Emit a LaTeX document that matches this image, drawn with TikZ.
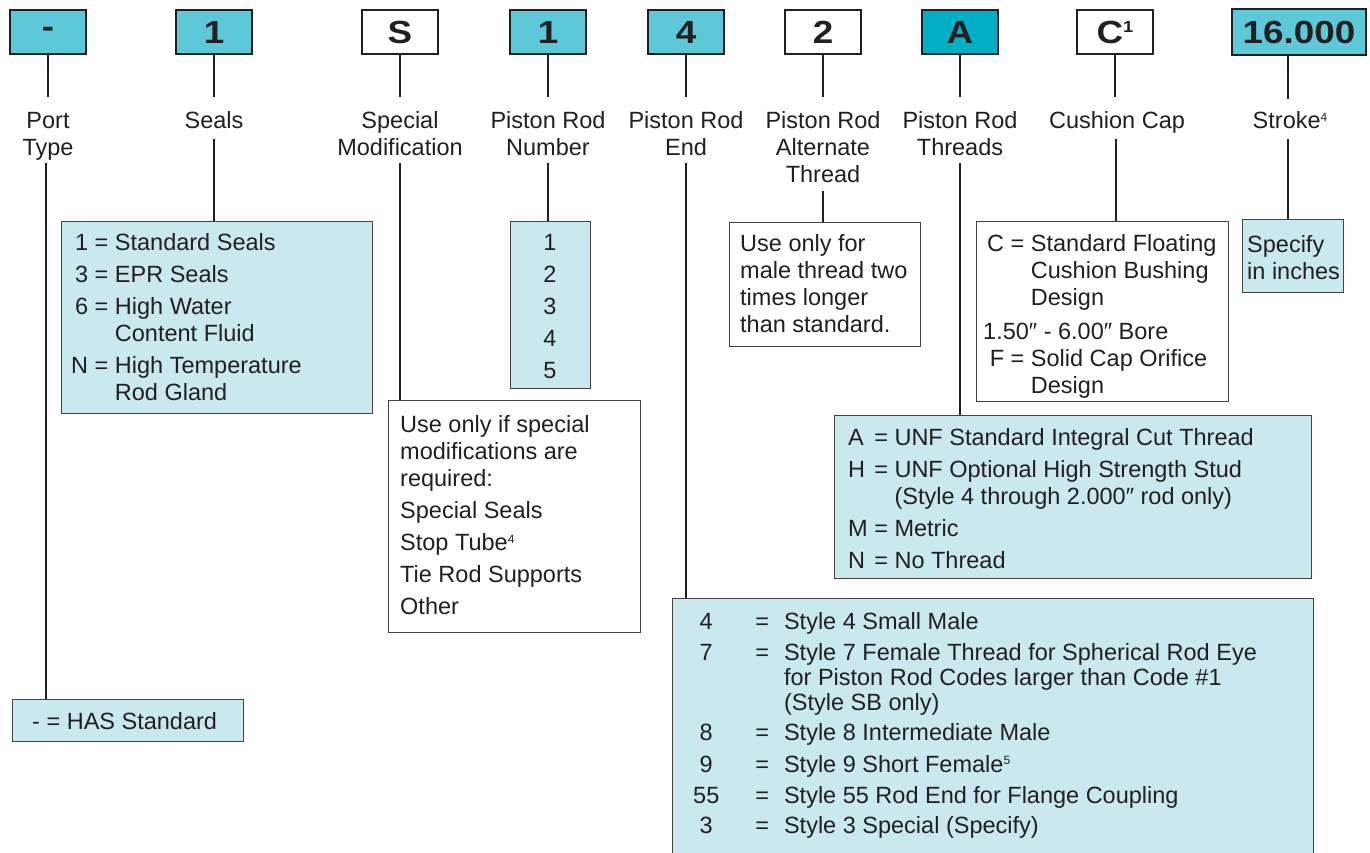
\documentclass[tikz,border=0pt]{standalone}
\usepackage{fontspec}
\setmainfont{Liberation Sans}
\definecolor{cyanbox}{RGB}{93,200,216}
\definecolor{darkcyan}{RGB}{0,175,196}
\definecolor{lightbox}{RGB}{201,233,238}
\definecolor{ink}{RGB}{35,31,32}
\newcommand{\codetxt}[1]{\scalebox{1.15}[1]{#1}}
\newcommand{\lblstack}[1]{\begin{tabular}{@{}c@{}}#1\end{tabular}}
\newcommand{\sups}[1]{\raisebox{7.5pt}{\fontsize{12}{12}\selectfont #1}}
\newcommand{\codesups}[1]{\raisebox{11pt}{\fontsize{16}{16}\selectfont\bfseries #1}}
\tikzset{
  codebox/.style={draw=ink, line width=2pt, minimum width=76pt, minimum height=44pt,
    inner sep=0pt, font=\fontsize{32}{36}\selectfont\bfseries, text=ink},
  infobox/.style={draw=ink!85, line width=1.4pt, anchor=north west, inner sep=0pt, fill=lightbox},
  plainbox/.style={infobox, fill=white},
  txt/.style={inner sep=0pt, anchor=north west, font=\fontsize{23.5}{27}\selectfont, text=ink},
  lbl/.style={inner sep=0pt, anchor=north, font=\fontsize{23.5}{27}\selectfont, text=ink},
  conn/.style={draw=ink, line width=2pt},
}
\begin{document}
\begin{tikzpicture}[x=1pt,y=-1pt]
\clip (0,0) rectangle (1370,852);
\fill[white] (0,0) rectangle (1370,852);

% ---- top code boxes
\node[codebox, fill=cyanbox]  (t1) at (48,32)  {\codetxt{-}};
\node[codebox, fill=cyanbox]  (t2) at (214,32) {\codetxt{1}};
\node[codebox, fill=white]    (t3) at (400,32) {\codetxt{S}};
\node[codebox, fill=cyanbox]  (t4) at (548,32) {\codetxt{1}};
\node[codebox, fill=cyanbox]  (t5) at (686,32) {\codetxt{4}};
\node[codebox, fill=white]    (t6) at (823,32) {\codetxt{2}};
\node[codebox, fill=darkcyan] (t7) at (960,32) {\codetxt{A}};
\node[codebox, fill=white]    (t8) at (1115,32) {\codetxt{C\codesups{1}}};
\node[codebox, fill=cyanbox, minimum width=134pt, minimum height=46pt] (t9) at (1299,32) {\codetxt{16.000}};

% ---- labels
\node[lbl] (l1) at (48,109.6)   {\lblstack{Port\\Type}};
\node[lbl] (l2) at (214,109.6)  {\lblstack{Seals}};
\node[lbl] (l3) at (400,109.6)  {\lblstack{Special\\Modification}};
\node[lbl] (l4) at (548,109.6)  {\lblstack{Piston Rod\\Number}};
\node[lbl] (l5) at (686,109.6)  {\lblstack{Piston Rod\\End}};
\node[lbl] (l6) at (823,109.6)  {\lblstack{Piston Rod\\Alternate\\Thread}};
\node[lbl] (l7) at (960,109.6)  {\lblstack{Piston Rod\\Threads}};
\node[lbl] (l8) at (1117,109.6) {\lblstack{Cushion Cap}};
\node[lbl] (l9) at (1290,109.6) {\lblstack{Stroke\sups{4}}};

% ---- info boxes
\node[infobox,  minimum width=231pt, minimum height=42pt]  (b1) at (12,699) {};
\node[infobox,  minimum width=311pt, minimum height=192pt] (b2) at (61,221) {};
\node[plainbox, minimum width=252pt, minimum height=232pt] (b3) at (388,400) {};
\node[infobox,  minimum width=80pt,  minimum height=167pt] (b4) at (510,221) {};
\node[infobox,  minimum width=641pt, minimum height=290pt] (b5) at (672,598) {};
\node[plainbox, minimum width=191pt, minimum height=124pt] (b6) at (729,222) {};
\node[infobox,  minimum width=477pt, minimum height=163pt] (b7) at (834,415) {};
\node[plainbox, minimum width=252pt, minimum height=180pt] (b8) at (976,221) {};
\node[infobox,  minimum width=101pt, minimum height=73pt]  (b9) at (1242,219) {};

% ---- box texts
\node[txt, anchor=base west] (x1) at (32,729) {-\ =\ HAS Standard};
\node[txt] (x2) at (71,231.1) {\begin{tabular}{@{}r@{\ }c@{\ }l@{}}
1&=&Standard Seals\\[5pt]
3&=&EPR Seals\\[5pt]
6&=&High Water\\
&&Content Fluid\\[5pt]
N&=&High Temperature\\
&&Rod Gland\end{tabular}};
\node[txt] (x3) at (400,413.6) {\begin{tabular}{@{}l@{}}
Use only if special\\
modifications are\\
required:\\[5pt]
Special Seals\\[5pt]
Stop Tube\sups{4}\\[5pt]
Tie Rod Supports\\[5pt]
Other\end{tabular}};
\node[txt, anchor=north] (x4) at (550,231.1) {\begin{tabular}{@{}c@{}}
1\\[5pt]2\\[5pt]3\\[5pt]4\\[5pt]5\end{tabular}};
\node[txt, font=\fontsize{23.5}{25}\selectfont] (x5) at (693,611.5) {\begin{tabular}{@{}c@{\hspace{36pt}}c@{\hspace{15pt}}l@{}}
4&=&Style 4 Small Male\\[6pt]
7&=&Style 7 Female Thread for Spherical Rod Eye\\
&&for Piston Rod Codes larger than Code \#1\\
&&(Style SB only)\\[5pt]
8&=&Style 8 Intermediate Male\\[7pt]
9&=&Style 9 Short Female\sups{5}\\[6pt]
55&=&Style 55 Rod End for Flange Coupling\\[5pt]
3&=&Style 3 Special (Specify)\end{tabular}};
\node[txt] (x6) at (740,232.6) {\begin{tabular}{@{}l@{}}
Use only for\\
male thread two\\
times longer\\
than standard.\end{tabular}};
\node[txt] (x7) at (848,426.6) {\begin{tabular}{@{}l@{\ }c@{\ }l@{}}
A&=&UNF Standard Integral Cut Thread\\[5pt]
H&=&UNF Optional High Strength Stud\\
&&(Style 4 through 2.000″ rod only)\\[5pt]
M&=&Metric\\[5pt]
N&=&No Thread\end{tabular}};
\node[txt] (x8) at (987,232.6) {\begin{tabular}{@{}r@{\ }c@{\ }l@{}}
C&=&Standard Floating\\
&&Cushion Bushing\\
&&Design\\[7pt]
\multicolumn{3}{@{}l@{}}{\hspace*{-4pt}1.50″ - 6.00″ Bore}\\
F&=&Solid Cap Orifice\\
&&Design\end{tabular}};
\node[txt] (x9) at (1247,233.6) {\begin{tabular}{@{}l@{}}
Specify\\
in inches\end{tabular}};

% ---- connectors: code box -> label
\coordinate (a1) at (48,97);   \draw[conn] (t1.south) -- (a1);
\coordinate (a2) at (214,97);  \draw[conn] (t2.south) -- (a2);
\coordinate (a3) at (400,97);  \draw[conn] (t3.south) -- (a3);
\coordinate (a4) at (548,97);  \draw[conn] (t4.south) -- (a4);
\coordinate (a5) at (686,97);  \draw[conn] (t5.south) -- (a5);
\coordinate (a6) at (823,97);  \draw[conn] (t6.south) -- (a6);
\coordinate (a7) at (960,97);  \draw[conn] (t7.south) -- (a7);
\coordinate (a8) at (1115,97); \draw[conn] (t8.south) -- (a8);
\coordinate (a9) at (1288,99); \draw[conn] (a9 |- t9.south) -- (a9);

% ---- connectors: label -> info box
\coordinate (c1) at (46,163);   \draw[conn] (c1) -- (c1 |- b1.north);
\coordinate (c2) at (214,139);  \draw[conn] (c2) -- (c2 |- b2.north);
\coordinate (c3) at (400,163);  \draw[conn] (c3) -- (c3 |- b3.north);
\coordinate (c4) at (548,163);  \draw[conn] (c4) -- (c4 |- b4.north);
\coordinate (c5) at (686,163);  \draw[conn] (c5) -- (c5 |- b5.north);
\coordinate (c6) at (823,191);  \draw[conn] (c6) -- (c6 |- b6.north);
\coordinate (c7) at (960,163);  \draw[conn] (c7) -- (c7 |- b7.north);
\coordinate (c8) at (1116,139); \draw[conn] (c8) -- (c8 |- b8.north);
\coordinate (c9) at (1288,139); \draw[conn] (c9) -- (c9 |- b9.north);
\end{tikzpicture}
\end{document}
